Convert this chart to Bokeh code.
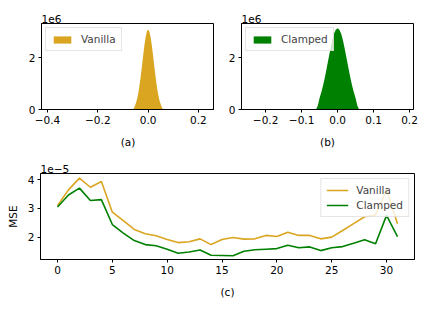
from bokeh.plotting import figure
from bokeh.layouts import column, row
from bokeh.models import (Range1d, FixedTicker, CustomJSTickFormatter,
                          Legend, LegendItem)
from bokeh.embed import file_html
from bokeh.resources import INLINE

# ---------------- data ----------------
bin_centers = [-0.060, -0.055, -0.050, -0.045, -0.040, -0.035, -0.030, -0.025,
               -0.020, -0.015, -0.010, -0.005, 0.000, 0.005, 0.010, 0.015,
               0.020, 0.025, 0.030, 0.035, 0.040, 0.045, 0.050, 0.055, 0.060]
# counts in units of 1e6
vanilla_counts = [0.00, 0.08, 0.20, 0.36, 0.58, 0.88, 1.24, 1.64, 2.06, 2.47,
                  2.80, 3.02, 3.10, 3.02, 2.80, 2.47, 2.06, 1.64, 1.24, 0.88,
                  0.58, 0.36, 0.20, 0.08, 0.00]
clamped_counts = [0.00, 0.15, 0.45, 0.68, 0.95, 1.27, 1.62, 1.98, 2.34, 2.67,
                  2.93, 3.09, 3.15, 3.09, 2.93, 2.67, 2.34, 1.98, 1.62, 1.27,
                  0.95, 0.68, 0.45, 0.15, 0.00]

layers = list(range(32))
# MSE in units of 1e-5
vanilla_mse = [3.10, 3.65, 4.06, 3.74, 3.94, 2.87, 2.58, 2.27, 2.12, 2.05,
               1.92, 1.81, 1.84, 1.94, 1.74, 1.92, 1.99, 1.93, 1.94, 2.06,
               2.02, 2.17, 2.06, 2.06, 1.94, 2.00, 2.23, 2.47, 2.71, 2.77,
               3.65, 2.47]
clamped_mse = [3.05, 3.47, 3.71, 3.28, 3.31, 2.44, 2.14, 1.88, 1.74, 1.70,
               1.58, 1.44, 1.48, 1.55, 1.37, 1.36, 1.35, 1.51, 1.56, 1.58,
               1.60, 1.72, 1.63, 1.66, 1.53, 1.63, 1.67, 1.79, 1.91, 1.77,
               2.76, 2.02]

hist_xticks_a = [-0.4, -0.2, 0.0, 0.2]
hist_xticks_b = [-0.2, -0.1, 0.0, 0.1, 0.2]
hist_yticks = [0, 2]
mse_xticks = [0, 5, 10, 15, 20, 25, 30]
mse_yticks = [2, 3, 4]

ORANGE = "#DAA520"
GREEN = "#008000"
FONT = "DejaVu Sans"
FS = "10.5px"

minus_fmt = CustomJSTickFormatter(code="return tick.toFixed(1).replace('-', '\\u2212');")
int_fmt = CustomJSTickFormatter(code="return tick.toFixed(0);")


def style(p, xlabel, offset_text):
    p.outline_line_color = "black"
    p.outline_line_width = 1
    p.xgrid.visible = False
    p.ygrid.visible = False
    p.background_fill_color = "white"
    p.border_fill_color = "white"
    for ax in (p.xaxis[0], p.yaxis[0]):
        ax.axis_line_color = "black"
        ax.major_tick_line_color = "black"
        ax.major_tick_in = 0
        ax.major_tick_out = 3
        ax.minor_tick_line_color = None
        ax.major_label_text_font = FONT
        ax.major_label_text_font_size = FS
        ax.major_label_text_color = "black"
        ax.major_label_standoff = 3
        ax.axis_label_text_font = FONT
        ax.axis_label_text_font_size = FS
        ax.axis_label_text_font_style = "normal"
        ax.axis_label_text_color = "black"
    p.xaxis[0].axis_label = xlabel
    p.xaxis[0].axis_label_standoff = 9
    p.title.text = offset_text
    p.title.align = "left"
    p.title.text_font = FONT
    p.title.text_font_size = FS
    p.title.text_font_style = "normal"
    p.title.text_color = "black"
    p.title.standoff = 2
    p.title.offset = 0


def hist_fig(counts, color, label, xr, xticks, xlabel, width, bl, br):
    p = figure(width=width, height=158, output_backend="svg", toolbar_location=None,
               x_range=Range1d(*xr), y_range=Range1d(0, 3.33),
               min_border_left=bl, min_border_right=br, min_border_top=23,
               min_border_bottom=49)
    r = p.varea(x=bin_centers, y1=[0] * len(counts), y2=counts, fill_color=color)
    style(p, xlabel, "1e6")
    p.xaxis[0].ticker = FixedTicker(ticks=xticks)
    p.xaxis[0].formatter = minus_fmt
    p.yaxis[0].ticker = FixedTicker(ticks=hist_yticks)
    p.yaxis[0].formatter = int_fmt
    leg = Legend(items=[LegendItem(label=label, renderers=[r])], location="top_left",
                 margin=4, padding=5, glyph_width=22, glyph_height=9,
                 label_standoff=8, label_text_font=FONT, label_text_font_size=FS,
                 label_height=11, border_line_color="#cccccc", border_line_width=1,
                 background_fill_alpha=0.8)
    p.add_layout(leg)
    return p


p1 = hist_fig(vanilla_counts, ORANGE, "Vanilla", (-0.424, 0.264), hist_xticks_a, "(a)",
              214, 41, 0)
p2 = hist_fig(clamped_counts, GREEN, "Clamped", (-0.267, 0.211), hist_xticks_b, "(b)",
              206, 27, 7)

p3 = figure(width=420, height=148, output_backend="svg", toolbar_location=None,
            x_range=Range1d(-1.55, 32.55), y_range=Range1d(1.22, 4.22),
            min_border_left=40, min_border_right=6, min_border_top=15,
            min_border_bottom=47)
r1 = p3.line(layers, vanilla_mse, line_color=ORANGE, line_width=1.6)
r2 = p3.line(layers, clamped_mse, line_color=GREEN, line_width=1.6)
style(p3, "(c)", "1e\u22125")
p3.yaxis[0].axis_label = "MSE"
p3.yaxis[0].axis_label_standoff = 6
p3.xaxis[0].ticker = FixedTicker(ticks=mse_xticks)
p3.xaxis[0].formatter = int_fmt
p3.yaxis[0].ticker = FixedTicker(ticks=mse_yticks)
p3.yaxis[0].formatter = int_fmt
leg3 = Legend(items=[LegendItem(label="Vanilla", renderers=[r1]),
                     LegendItem(label="Clamped", renderers=[r2])],
              location="top_right", margin=5, padding=5, spacing=3, glyph_width=22,
              glyph_height=10, label_standoff=8, label_text_font=FONT,
              label_text_font_size=FS, label_height=12, border_line_color="#cccccc",
              border_line_width=1, background_fill_alpha=0.8)
p3.add_layout(leg3)

layout = column(row(p1, p2, spacing=0), p3, spacing=0)
open("out.html", "w").write(file_html(layout, INLINE))
